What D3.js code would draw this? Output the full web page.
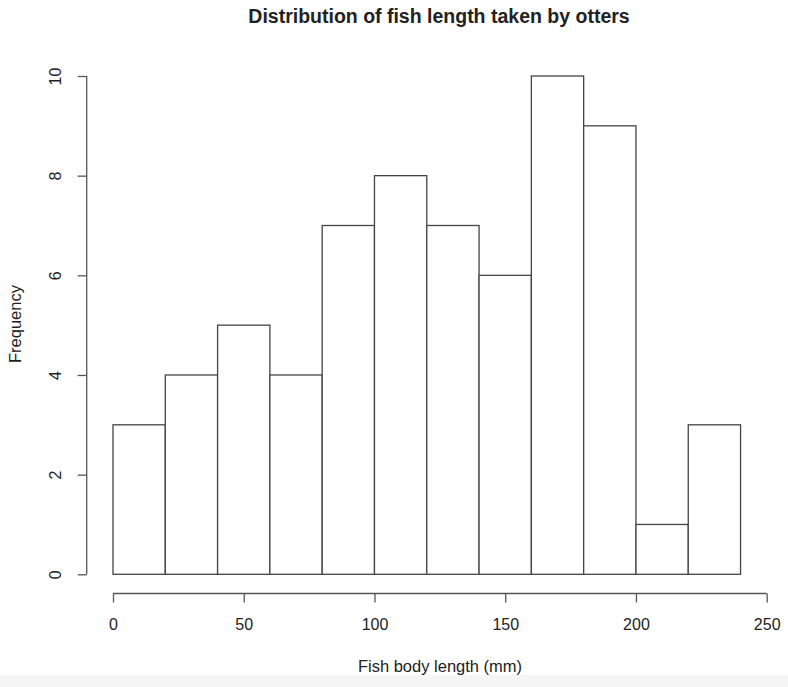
<!DOCTYPE html>
<html>

<head>
    <meta charset="UTF-8">
    <title>Distribution of fish length taken by otters</title>
    <style>
        body {
            margin: 0;
            background: #fff;
            font-family: 'Liberation Sans', Arial, Helvetica, sans-serif;
        }

        .bars rect {
            fill: #fff;
            stroke: #444;
            stroke-width: 1.3px;
        }

        .axis path,
        .axis line {
            stroke: #555;
            stroke-width: 1.3px;
        }

        .axis text {
            font-size: 16px;
            fill: #222;
        }
    </style>
</head>

<body>
    <script src="https://d3js.org/d3.v7.min.js"></script>
    <script>
        /// data
        var binStarts = [0, 20, 40, 60, 80, 100, 120, 140, 160, 180, 200, 220];
        var binWidth = 20;
        var counts = [3, 4, 5, 4, 7, 8, 7, 6, 10, 9, 1, 3];
        var xTicks = [0, 50, 100, 150, 200, 250];
        var yTicks = [0, 2, 4, 6, 8, 10];

        var width = 788,
            height = 687;

        var margin = {
            top: 76,
            right: 21,
            bottom: 113,
            left: 113
        };

        var svg = d3.select("body").append("svg")
            .attr("width", width)
            .attr("height", height);

        // faint strip along the bottom edge of the screenshot
        svg.append("rect")
            .attr("x", 0)
            .attr("y", 675)
            .attr("width", width)
            .attr("height", height - 675)
            .attr("fill", "#f5f5f5");

        var x = d3.scaleLinear()
            .domain([0, 250])
            .range([margin.left, width - margin.right - 0.3]);
        var y = d3.scaleLinear()
            .domain([0, 10])
            .range([574.3, margin.top]);

        // bars
        svg.append("g")
            .attr("class", "bars")
            .selectAll("rect")
            .data(counts)
            .enter().append("rect")
            .attr("x", function(d, i) { return x(binStarts[i]); })
            .attr("y", function(d) { return y(d); })
            .attr("width", function(d, i) { return x(binStarts[i] + binWidth) - x(binStarts[i]); })
            .attr("height", function(d) { return y(0) - y(d); });

        // x axis, R style: detached below the plot
        var xAxis = svg.append("g")
            .attr("class", "axis")
            .attr("transform", "translate(0,593.5)")
            .call(d3.axisBottom(x).tickValues(xTicks).tickSize(9).tickSizeOuter(0).tickPadding(16));
        xAxis.select(".domain").attr("d", "M" + x(0) + ",0H" + x(250));

        // y axis, labels rotated
        var yAxis = svg.append("g")
            .attr("class", "axis")
            .attr("transform", "translate(86.7,0)")
            .call(d3.axisLeft(y).tickValues(yTicks).tickSize(9).tickSizeOuter(0));
        yAxis.select(".domain").attr("d", "M0," + y(0) + "V" + y(10));
        yAxis.selectAll(".tick text")
            .attr("x", null)
            .attr("text-anchor", "middle")
            .attr("transform", "translate(-31,0) rotate(-90)")
            .attr("dy", "0.35em");

        // title and axis labels
        svg.append("text")
            .attr("x", 439)
            .attr("y", 23)
            .attr("text-anchor", "middle")
            .attr("font-weight", "bold")
            .attr("font-size", "19.5px")
            .attr("fill", "#222")
            .text("Distribution of fish length taken by otters");

        svg.append("text")
            .attr("x", 440)
            .attr("y", 672)
            .attr("text-anchor", "middle")
            .attr("font-size", "16.5px")
            .attr("fill", "#222")
            .text("Fish body length (mm)");

        svg.append("text")
            .attr("transform", "translate(21,324) rotate(-90)")
            .attr("text-anchor", "middle")
            .attr("font-size", "16.5px")
            .attr("fill", "#222")
            .text("Frequency");
    </script>
</body>

</html>
